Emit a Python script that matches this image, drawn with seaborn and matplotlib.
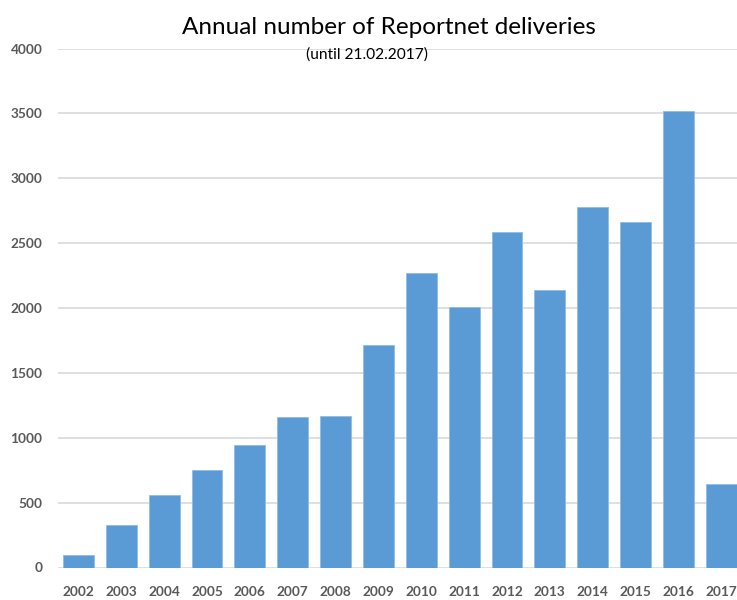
import matplotlib
matplotlib.use("Agg")
import matplotlib.pyplot as plt
import seaborn as sns
import pandas as pd

years = ["2002", "2003", "2004", "2005", "2006", "2007", "2008", "2009",
         "2010", "2011", "2012", "2013", "2014", "2015", "2016", "2017"]
deliveries = [95, 325, 555, 750, 945, 1160, 1165, 1715,
              2270, 2010, 2585, 2140, 2775, 2660, 3515, 640]
yticks = [0, 500, 1000, 1500, 2000, 2500, 3000, 3500, 4000]

sns.set_theme(style="white")
plt.rcParams['font.family'] = ['Lato', 'DejaVu Sans']

df = pd.DataFrame({"year": years, "n": deliveries})

fig = plt.figure(figsize=(7.37, 6.0), dpi=100)
ax = fig.add_axes([57.7 / 737, 32.5 / 600, 1 - 57.7 / 737, (567.5 - 48.5) / 600])

sns.barplot(data=df, x="year", y="n", color="#5B9BD5", saturation=1,
            width=0.72, edgecolor="#8FBCE6", linewidth=0.6, ax=ax, zorder=3)

ax.set_ylim(0, 4000)
ax.set_xlim(-0.485, 15.37)
ax.set_yticks(yticks)
ax.set_yticklabels([str(v) for v in yticks])
ax.yaxis.grid(True, color="#D9D9D9", linewidth=1.2, zorder=0)
ax.set_axisbelow(True)
for s in ax.spines.values():
    s.set_visible(False)
ax.set_xlabel("")
ax.set_ylabel("")
ax.tick_params(axis="y", length=0, pad=11, labelsize=9.8, labelcolor="#595959")
ax.tick_params(axis="x", length=0, pad=13, labelsize=9.8, labelcolor="#595959")
for lbl in ax.get_xticklabels() + ax.get_yticklabels():
    lbl.set_fontweight("bold")

fig.text(389 / 737, 1 - 27 / 600, "Annual number of Reportnet deliveries",
         ha="center", va="center", fontsize=17.5, color="#000000")
fig.text(367 / 737, 1 - 55 / 600, "(until 21.02.2017)",
         ha="center", va="center", fontsize=11.2, color="#000000")

fig.savefig("out.png", dpi=100)
